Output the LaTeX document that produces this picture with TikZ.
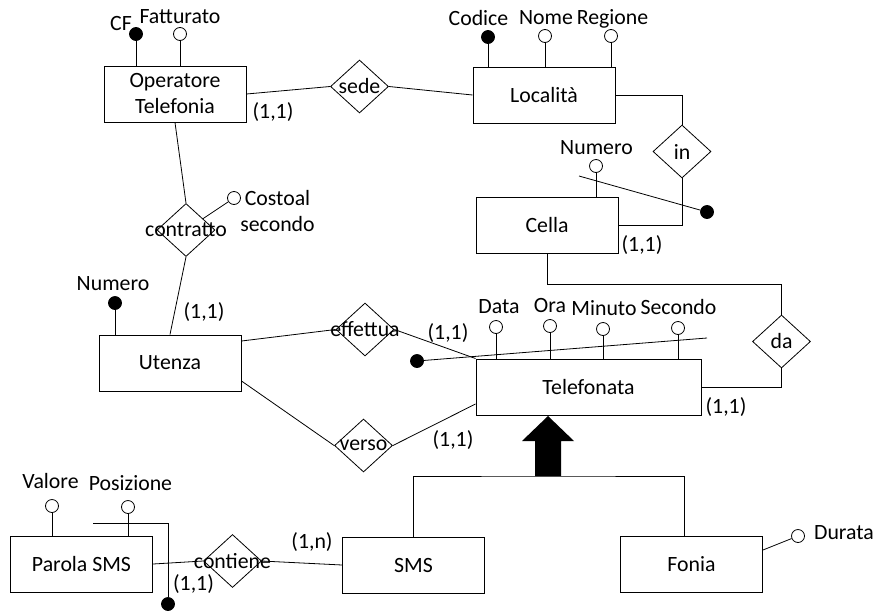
\documentclass[tikz,border=0pt]{standalone}
\usepackage{fontspec}
\setmainfont{Carlito}
\usetikzlibrary{arrows}
\usetikzlibrary{shapes}

\begin{document}
\begin{tikzpicture}[x = 1pt, y = -1pt, font = \fontsize{21.8}{26}\selectfont]
	\tikzstyle{entityStyle} = [shape = rectangle, draw, line width = 1pt, minimum width = 142pt, minimum height = 56pt, align = center, inner sep = 0pt]
	\tikzstyle{relationStyle} = [shape = diamond, draw, line width = 0.8pt, minimum width = 58pt, minimum height = 53pt, inner sep = 0pt]
	\tikzstyle{keyStyle} = [shape = circle, draw, fill, line width = 0.8pt, minimum size = 13pt, inner sep = 0pt]
	\tikzstyle{attrStyle} = [shape = circle, draw, fill = white, line width = 0.8pt, minimum size = 13pt, inner sep = 0pt]
	\tikzstyle{textStyle} = [inner sep = 0pt, align = center]
	\tikzstyle{EdgeStyle} = [line width = 0.8pt]
	\useasboundingbox (0, 0) rectangle (875, 611);
	\node[entityStyle] (e0) at (175, 94) {Operatore\\Telefonia};
	\node[entityStyle] (e1) at (544, 95) {Località};
	\node[entityStyle] (e2) at (547, 225.5) {Cella};
	\node[entityStyle] (e3) at (170, 363) {Utenza};
	\node[entityStyle, minimum width = 225pt] (e4) at (588.5, 387) {Telefonata};
	\node[entityStyle] (e5) at (413.5, 565) {SMS};
	\node[entityStyle] (e6) at (691.5, 564) {Fonia};
	\node[entityStyle] (e7) at (81.5, 564) {Parola SMS};
	\node[relationStyle, label = center:{sede}] (r0) at (359.5, 86.5) {};
	\node[relationStyle, label = center:{in}] (r1) at (682, 151.5) {};
	\node[relationStyle, label = center:{contratto}] (r2) at (186, 230) {};
	\node[relationStyle, label = center:{effettua}] (r3) at (365, 329.5) {};
	\node[relationStyle, label = center:{verso}] (r4) at (363.5, 445.5) {};
	\node[relationStyle, label = center:{da}] (r5) at (781.5, 341.5) {};
	\node[relationStyle, label = center:{contiene}] (r6) at (232.5, 561) {};
	\node[keyStyle] (a0) at (136, 34) {};
	\node[attrStyle] (a1) at (180, 34) {};
	\node[keyStyle] (a2) at (488, 37) {};
	\node[attrStyle] (a3) at (545, 36) {};
	\node[attrStyle] (a4) at (611, 36) {};
	\node[attrStyle] (a5) at (596, 166) {};
	\node[keyStyle] (a6) at (707, 212) {};
	\node[keyStyle] (a7) at (115, 303) {};
	\node[attrStyle] (a8) at (234, 198) {};
	\node[attrStyle] (a9) at (496, 327) {};
	\node[attrStyle] (a10) at (550, 326) {};
	\node[attrStyle] (a11) at (603, 329) {};
	\node[attrStyle] (a12) at (678, 328) {};
	\node[keyStyle] (a13) at (417, 361) {};
	\node[attrStyle] (a14) at (798, 536) {};
	\node[attrStyle] (a15) at (52, 506) {};
	\node[attrStyle] (a16) at (128, 507) {};
	\node[keyStyle] (a17) at (168, 604) {};
	\coordinate (k0) at (579, 176);
	\coordinate (k1) at (707, 338);
	\coordinate (k2) at (93, 523);
	\coordinate (isa) at (548, 476);
	\node[textStyle] (t0) at (121, 23) {CF};
	\node[textStyle] (t1) at (180, 17) {Fatturato};
	\node[textStyle] (t2) at (478.5, 18) {Codice};
	\node[textStyle] (t3) at (546, 18) {Nome};
	\node[textStyle] (t4) at (612.5, 19) {Regione};
	\node[textStyle] (t5) at (596.5, 148) {Numero};
	\node[textStyle] (t6) at (113, 284) {Numero};
	\node[textStyle] (t7) at (277.5, 211) {Costoal\\secondo};
	\node[textStyle] (t8) at (499, 307) {Data};
	\node[textStyle] (t9) at (550, 305) {Ora};
	\node[textStyle] (t10) at (604, 308) {Minuto};
	\node[textStyle] (t11) at (678.5, 307) {Secondo};
	\node[textStyle] (t12) at (844, 533) {Durata};
	\node[textStyle] (t13) at (50.5, 481) {Valore};
	\node[textStyle] (t14) at (130.5, 483) {Posizione};
	\node[textStyle] (c0) at (273, 112) {(1,1)};
	\node[textStyle] (c1) at (642, 245) {(1,1)};
	\node[textStyle] (c2) at (204, 312) {(1,1)};
	\node[textStyle] (c3) at (448, 333) {(1,1)};
	\node[textStyle] (c4) at (453, 440) {(1,1)};
	\node[textStyle] (c5) at (726, 407) {(1,1)};
	\node[textStyle] (c6) at (193.5, 584) {(1,1)};
	\node[textStyle] (c7) at (312, 542) {(1,n)};
	\draw[EdgeStyle] (e0.east) -- (r0.west);
	\draw[EdgeStyle] (r0.east) -- (e1.west);
	\draw[EdgeStyle] (e1.east) -| (r1.north);
	\draw[EdgeStyle] (r1.south) |- (e2.east);
	\draw[EdgeStyle] (e2.south) -- ++(0, 30) -| (r5.north);
	\draw[EdgeStyle] (r5.south) |- (e4.east);
	\draw[EdgeStyle] (e0.south) -- (r2.north);
	\draw[EdgeStyle] (r2.south) -- (e3.north);
	\draw[EdgeStyle] (r2) -- (a8);
	\draw[EdgeStyle] ([yshift = 22pt]e3.east) -- (r3.west);
	\draw[EdgeStyle] (r3.east) -- (e4.north west);
	\draw[EdgeStyle] ([yshift = -18pt]e3.east) -- (r4.west);
	\draw[EdgeStyle] (r4.east) -- ([yshift = -17pt]e4.west);
	\draw[EdgeStyle] (e7.east) -- (r6.west);
	\draw[EdgeStyle] (r6.east) -- (e5.west);
	\draw[EdgeStyle] (e5.north) |- (isa) -| ([xshift = -7pt]e6.north);
	\fill (isa) -- ++(-13, 0) -- ++(0, -35) -- ++(-13, 0) -- (548, 416) -- (574, 441) -- ++(-13, 0) -- ++(0, 35) -- cycle;
	\draw[EdgeStyle] ([yshift = 14pt]e6.east) -- (a14);
	\foreach \a in {a0, a1}
		\draw[EdgeStyle] (\a) -- (\a |- e0.north);
	\foreach \a in {a2, a3, a4}
		\draw[EdgeStyle] (\a) -- (\a |- e1.north);
	\draw[EdgeStyle] (a5) -- (a5 |- e2.north);
	\draw[EdgeStyle] (a7) -- (a7 |- e3.north);
	\foreach \a in {a9, a10, a11, a12}
		\draw[EdgeStyle] (\a) -- (\a |- e4.north);
	\foreach \a in {a15, a16}
		\draw[EdgeStyle] (\a) -- (\a |- e7.north);
	\draw[EdgeStyle] (k0) -- (a6);
	\draw[EdgeStyle] (a13) -- (k1);
	\draw[EdgeStyle] (k2) -| (a17);
\end{tikzpicture}
\end{document}
